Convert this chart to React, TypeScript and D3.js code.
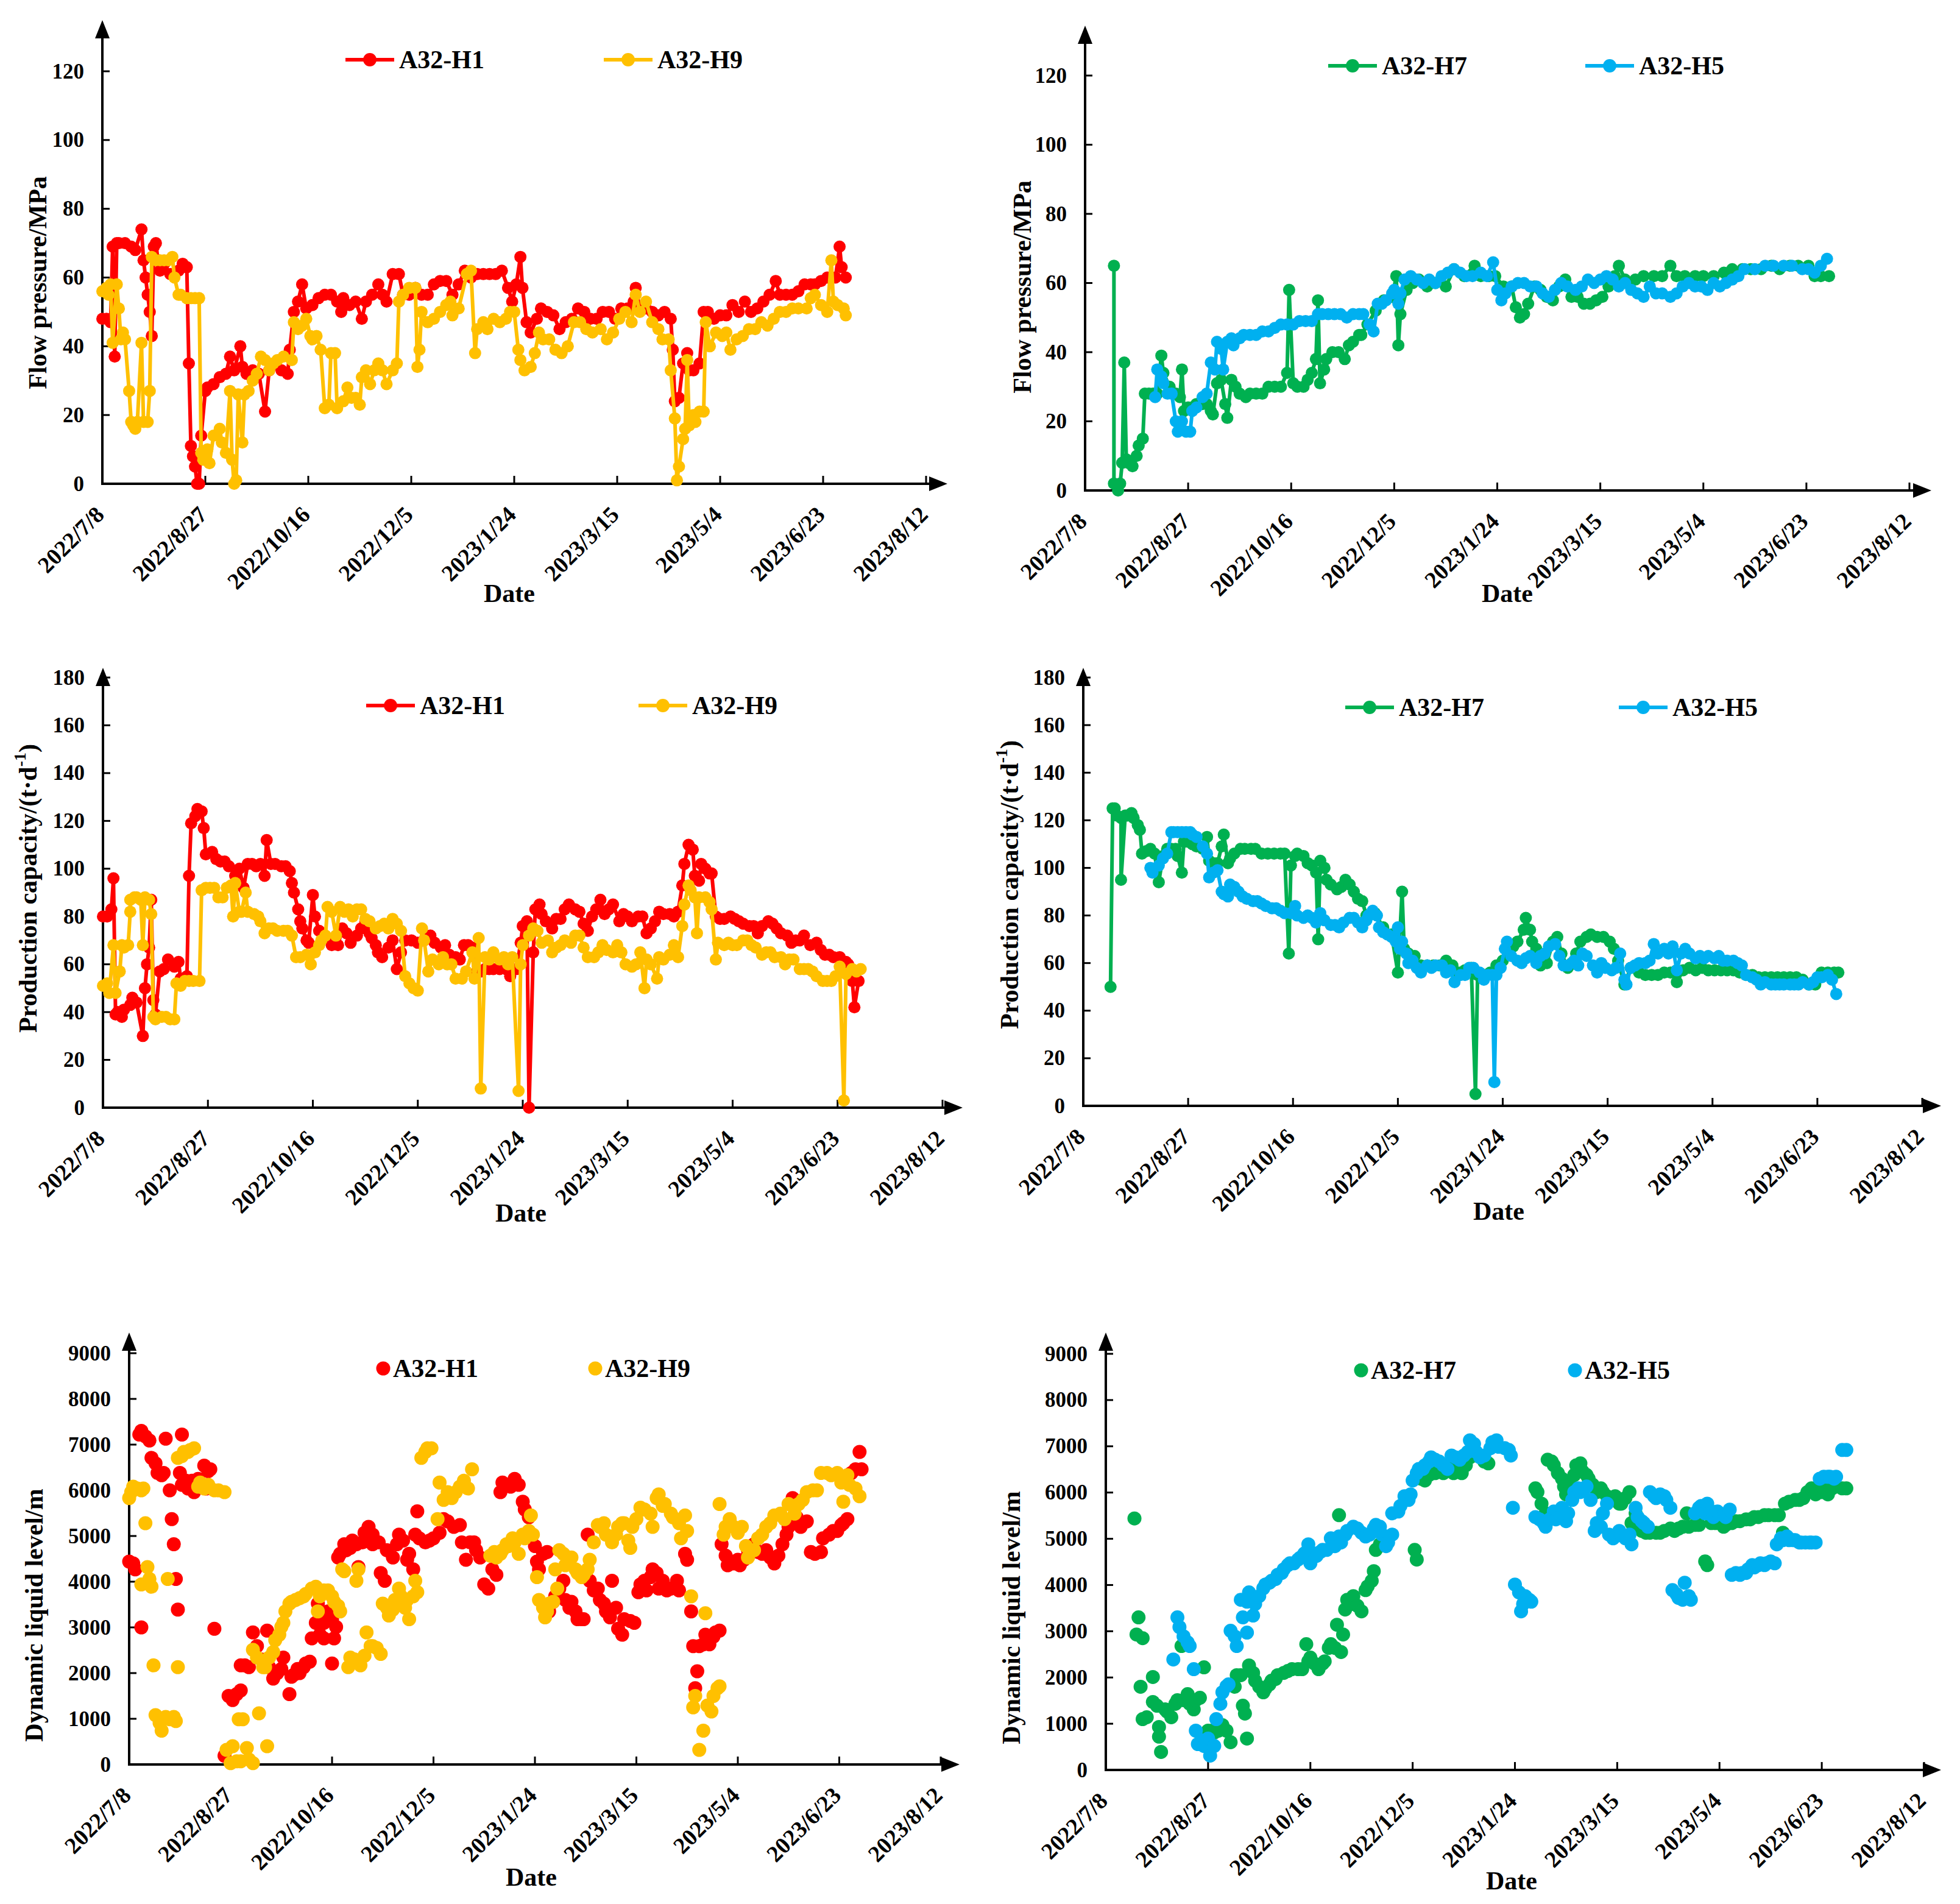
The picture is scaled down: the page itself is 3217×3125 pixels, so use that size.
import * as d3 from "d3"

type Pt = [number, number]

// day offsets from 2022/7/8, value
const START = new Date(2022, 6, 8)
const SPAN_DAYS = 400
const TICK_STEP_DAYS = 50

const pressureTicks = [0, 20, 40, 60, 80, 100, 120]
const capacityTicks = [0, 20, 40, 60, 80, 100, 120, 140, 160, 180]
const levelTicks = [0, 1000, 2000, 3000, 4000, 5000, 6000, 7000, 8000, 9000]

const pressureH1: Pt[] = [[0,48],[2,48],[4,47],[5,69],[6,37],[7,70],[8,70],[11,70],[14,69],[16,68],[19,74],[20,65],[21,60],[22,55],[23,50],[24,43],[25,69],[26,70],[27,65],[28,62],[30,64],[33,61],[35,61],[37,62],[39,64],[41,63],[42,35],[43,11],[44,8],[45,5],[46,0],[47,0],[48,14],[50,27],[51,28],[54,29],[57,31],[60,32],[62,37],[64,33],[67,40],[68,34],[70,32],[73,33],[76,32],[79,21],[81,33],[84,35],[87,33],[90,32],[91,39],[93,50],[95,53],[97,58],[99,51],[102,52],[105,54],[108,55],[111,55],[114,53],[116,50],[117,54],[120,52],[123,53],[126,48],[128,53],[131,55],[134,58],[136,55],[138,53],[141,61],[144,61],[146,55],[149,55],[152,57],[155,55],[158,55],[161,58],[164,59],[167,59],[170,55],[173,58],[176,62],[179,60],[182,61],[185,61],[188,61],[191,61],[194,62],[197,57],[199,53],[201,58],[203,66],[204,57],[206,47],[208,44],[211,48],[213,51],[216,50],[219,49],[222,45],[225,47],[228,48],[231,51],[234,50],[237,48],[240,48],[243,50],[246,50],[249,48],[252,51],[255,51],[258,53],[259,57],[261,51],[264,51],[267,50],[270,49],[273,50],[276,48],[277,39],[278,24],[280,25],[282,35],[284,38],[285,33],[287,33],[290,35],[292,50],[294,50],[297,48],[300,49],[303,49],[306,52],[309,50],[312,53],[315,50],[318,51],[321,53],[324,55],[327,59],[329,55],[332,55],[335,55],[338,56],[341,58],[344,58],[346,58],[349,59],[352,60],[356,60],[358,69],[359,63],[361,60]]

const pressureH9: Pt[] = [[0,56],[2,57],[3,55],[4,58],[5,41],[7,58],[8,51],[9,42],[10,44],[11,42],[13,27],[14,18],[15,17],[16,16],[17,18],[19,41],[20,18],[22,18],[23,27],[24,66],[26,65],[28,65],[30,65],[32,65],[34,66],[35,60],[37,55],[38,55],[41,54],[43,54],[45,54],[47,54],[48,9],[49,7],[51,10],[52,6],[54,14],[57,16],[58,12],[60,9],[62,27],[63,7],[64,0],[65,1],[66,26],[68,12],[69,26],[71,27],[73,30],[75,32],[77,37],[79,36],[81,33],[83,35],[85,36],[88,37],[92,36],[93,47],[95,45],[97,46],[99,48],[101,43],[102,42],[104,43],[106,39],[108,22],[110,23],[111,38],[113,38],[114,22],[117,24],[119,28],[121,25],[123,25],[125,23],[126,31],[128,33],[130,29],[132,33],[134,35],[136,33],[138,29],[141,33],[143,35],[144,53],[146,55],[149,57],[152,57],[153,34],[154,39],[155,50],[158,47],[161,48],[164,50],[167,52],[169,53],[170,49],[173,51],[177,61],[179,62],[181,38],[182,45],[185,47],[187,45],[190,48],[193,47],[196,48],[198,50],[200,50],[202,39],[203,36],[205,33],[208,34],[210,38],[212,44],[214,42],[217,42],[220,39],[223,38],[226,40],[229,47],[232,47],[235,45],[238,44],[242,45],[245,42],[248,44],[251,48],[254,50],[257,47],[259,55],[261,50],[264,53],[267,47],[270,45],[272,42],[275,42],[276,33],[278,19],[279,1],[280,5],[282,13],[283,16],[284,36],[285,17],[287,20],[288,18],[290,21],[292,21],[293,47],[295,40],[298,44],[301,43],[303,44],[305,39],[308,42],[311,43],[314,45],[317,45],[320,47],[323,46],[326,48],[329,50],[332,50],[335,51],[338,51],[342,51],[344,54],[346,55],[349,52],[352,50],[354,65],[355,53],[357,52],[360,51],[361,49]]

const pressureH7: Pt[] = [[14,65],[14,2],[16,0],[17,2],[18,8],[19,37],[20,9],[21,8],[23,7],[25,10],[26,13],[28,15],[29,28],[31,28],[33,28],[35,28],[37,39],[38,34],[41,30],[44,28],[46,27],[47,35],[48,23],[50,24],[52,24],[54,25],[57,25],[59,25],[61,23],[62,22],[64,31],[66,32],[68,25],[69,21],[71,32],[73,30],[75,28],[78,27],[80,28],[83,28],[86,28],[89,30],[92,30],[95,30],[98,34],[99,58],[101,31],[103,30],[106,30],[108,32],[110,34],[112,38],[113,55],[114,31],[116,35],[117,38],[120,40],[123,40],[126,38],[128,42],[130,43],[133,45],[134,45],[137,48],[141,52],[145,55],[149,56],[151,62],[152,42],[153,51],[156,58],[159,60],[162,61],[166,59],[170,60],[175,59],[179,64],[184,62],[189,65],[192,62],[196,62],[199,62],[203,59],[207,59],[209,53],[211,50],[213,51],[215,54],[218,59],[221,58],[224,56],[227,55],[230,59],[233,61],[236,56],[239,56],[242,54],[245,54],[248,55],[251,56],[254,59],[257,62],[259,65],[262,61],[267,61],[271,62],[276,62],[280,62],[284,65],[287,62],[291,62],[296,62],[300,62],[305,62],[310,63],[314,64],[319,64],[323,64],[328,64],[333,65],[337,64],[342,65],[346,65],[351,65],[354,62],[357,62],[361,62]]

const pressureH5: Pt[] = [[34,27],[35,35],[37,33],[38,31],[40,28],[42,28],[44,20],[45,17],[47,20],[49,17],[51,17],[52,23],[54,24],[57,27],[59,28],[61,37],[63,35],[64,43],[66,41],[67,35],[69,43],[71,44],[72,42],[75,44],[77,45],[80,45],[83,45],[86,46],[89,46],[92,47],[95,48],[98,48],[101,48],[104,49],[107,49],[110,49],[113,51],[115,51],[118,51],[121,51],[124,51],[127,50],[130,51],[133,51],[135,51],[138,48],[140,46],[142,54],[144,54],[146,55],[149,57],[150,58],[152,54],[153,57],[155,61],[158,62],[161,61],[164,60],[167,61],[170,60],[173,62],[176,63],[179,64],[182,63],[185,62],[188,62],[192,63],[195,62],[198,66],[200,58],[202,55],[204,57],[207,59],[210,60],[213,60],[216,59],[219,59],[222,57],[225,56],[228,58],[231,60],[234,59],[238,58],[241,59],[244,61],[247,60],[250,61],[253,62],[256,61],[259,59],[262,60],[265,58],[268,57],[271,56],[274,59],[277,57],[280,57],[284,56],[287,57],[290,59],[293,60],[296,59],[299,59],[302,58],[305,60],[308,59],[311,60],[314,61],[317,62],[320,64],[325,64],[330,65],[334,65],[339,65],[343,65],[348,64],[351,64],[354,63],[357,65],[360,67]]

const capacityH1: Pt[] = [[0,80],[2,80],[4,83],[5,96],[6,39],[7,40],[9,38],[10,41],[13,43],[14,46],[16,44],[19,30],[20,50],[21,60],[22,67],[23,87],[24,45],[25,39],[27,57],[29,58],[31,62],[34,59],[36,61],[37,54],[40,55],[41,97],[42,119],[44,122],[45,125],[47,124],[48,117],[49,106],[52,107],[54,104],[56,103],[58,103],[60,101],[63,97],[65,100],[67,92],[69,102],[71,102],[73,101],[75,102],[77,97],[78,112],[80,102],[82,102],[85,101],[87,101],[89,99],[90,94],[91,90],[93,83],[94,78],[95,75],[97,70],[98,69],[100,89],[101,80],[103,74],[105,72],[107,71],[109,68],[112,68],[114,75],[116,73],[118,69],[121,72],[123,75],[125,78],[127,73],[128,71],[130,68],[131,65],[133,63],[136,67],[138,70],[140,58],[142,65],[144,70],[147,70],[150,69],[153,70],[156,72],[158,69],[161,67],[163,68],[165,64],[168,63],[170,62],[172,68],[174,68],[176,67],[177,56],[180,57],[182,58],[184,58],[186,58],[189,58],[192,58],[194,55],[197,58],[199,69],[200,76],[202,78],[203,0],[205,65],[206,83],[208,85],[209,81],[211,78],[214,75],[216,79],[218,79],[220,83],[222,85],[225,83],[227,82],[229,77],[231,74],[233,80],[235,83],[237,87],[239,81],[241,83],[243,85],[246,78],[248,81],[250,80],[252,78],[255,80],[257,80],[259,73],[261,75],[263,78],[265,82],[267,81],[270,81],[272,80],[274,82],[276,93],[277,102],[279,110],[281,108],[282,97],[284,95],[285,102],[287,100],[289,98],[290,98],[292,80],[294,79],[296,79],[299,80],[301,79],[303,78],[305,77],[308,76],[310,76],[312,73],[314,76],[317,78],[319,77],[321,75],[323,73],[326,72],[328,69],[330,70],[332,70],[334,72],[337,68],[340,69],[342,66],[344,64],[346,64],[348,63],[351,63],[354,61],[355,60],[357,53],[358,42],[360,53]]

const capacityH9: Pt[] = [[0,51],[2,52],[3,48],[5,68],[6,48],[8,57],[9,68],[10,67],[12,68],[13,82],[13,87],[15,88],[16,88],[18,87],[19,68],[20,88],[22,87],[23,81],[24,38],[25,37],[28,38],[30,38],[32,37],[34,37],[35,52],[37,51],[39,53],[41,53],[43,53],[46,53],[47,91],[49,92],[51,92],[53,92],[55,88],[57,88],[59,92],[61,93],[62,80],[63,94],[65,82],[66,82],[68,90],[69,82],[72,81],[74,80],[75,78],[77,73],[79,75],[81,75],[83,74],[86,74],[88,74],[90,72],[92,63],[94,63],[97,64],[99,60],[101,65],[103,68],[104,70],[106,72],[107,84],[109,82],[111,72],[113,84],[115,82],[117,83],[119,80],[121,83],[123,83],[125,79],[127,78],[130,75],[132,76],[134,77],[136,75],[138,79],[140,77],[142,74],[144,55],[146,52],[148,50],[150,49],[152,75],[153,70],[155,57],[157,62],[160,60],[162,63],[164,60],[166,60],[168,54],[171,54],[173,57],[176,65],[177,54],[179,71],[180,8],[182,63],[184,62],[186,65],[189,62],[191,63],[193,60],[195,63],[198,7],[199,60],[200,68],[203,72],[205,75],[207,74],[209,69],[212,70],[214,65],[216,67],[218,68],[220,70],[223,69],[225,72],[227,72],[229,67],[231,63],[234,63],[236,65],[238,68],[240,66],[243,65],[245,68],[247,65],[249,60],[252,59],[254,60],[256,65],[258,50],[259,62],[261,60],[264,54],[265,63],[267,62],[270,64],[272,68],[274,63],[276,76],[277,85],[279,93],[280,91],[282,88],[283,73],[284,88],[287,88],[289,86],[290,83],[292,62],[293,69],[296,68],[298,69],[300,68],[302,68],[305,70],[307,70],[309,68],[311,67],[314,64],[316,65],[318,65],[320,63],[323,63],[325,60],[327,62],[329,62],[332,58],[334,58],[336,58],[338,57],[340,55],[343,53],[345,53],[347,53],[349,55],[351,59],[353,3],[354,56],[357,58],[359,57],[361,58]]

const capacityH7: Pt[] = [[13,50],[14,125],[15,125],[16,122],[18,121],[18,95],[20,122],[21,122],[23,123],[24,121],[26,118],[27,116],[28,106],[30,107],[32,108],[34,106],[36,94],[38,105],[40,108],[42,108],[44,108],[45,105],[47,98],[48,111],[50,111],[52,110],[54,109],[57,108],[59,113],[60,103],[62,102],[64,102],[66,109],[67,114],[69,102],[70,104],[72,106],[75,108],[77,108],[80,108],[82,108],[85,106],[88,106],[91,106],[94,106],[96,106],[98,64],[99,101],[101,105],[102,106],[105,105],[107,102],[109,101],[111,98],[112,70],[113,103],[115,100],[116,95],[118,93],[121,91],[123,92],[125,95],[127,93],[129,90],[131,87],[133,86],[135,80],[139,81],[143,75],[147,72],[150,56],[152,90],[153,66],[155,64],[158,63],[161,59],[164,59],[167,59],[170,59],[173,61],[176,59],[179,56],[182,57],[185,58],[187,5],[188,55],[191,55],[194,56],[197,59],[200,61],[203,64],[205,67],[207,69],[210,74],[211,79],[213,74],[214,69],[216,66],[218,59],[221,60],[224,69],[226,71],[228,64],[231,58],[233,60],[235,64],[237,69],[240,71],[242,72],[245,71],[248,71],[251,69],[253,66],[255,61],[258,51],[261,58],[265,56],[268,55],[271,55],[274,55],[277,56],[280,56],[283,57],[283,52],[286,57],[289,58],[292,57],[295,58],[298,57],[301,57],[304,57],[307,57],[310,57],[313,56],[316,55],[319,55],[322,54],[325,54],[328,54],[331,54],[334,54],[337,54],[340,54],[343,53],[346,51],[349,51],[352,56],[355,56],[358,56],[360,56]]

const capacityH5: Pt[] = [[32,100],[33,98],[36,101],[38,104],[40,106],[42,115],[43,115],[45,115],[47,115],[49,115],[51,115],[52,114],[54,113],[57,109],[59,106],[60,96],[62,98],[64,99],[66,90],[67,89],[69,88],[70,93],[72,92],[74,90],[76,88],[78,87],[81,86],[83,86],[85,85],[87,84],[90,83],[92,83],[94,82],[96,81],[99,81],[101,84],[102,80],[105,79],[107,80],[109,79],[111,77],[113,81],[115,78],[118,76],[120,76],[122,75],[124,77],[127,79],[129,79],[131,77],[133,75],[135,78],[136,80],[138,82],[140,80],[141,75],[143,73],[145,72],[147,71],[149,69],[150,75],[151,66],[152,69],[154,64],[155,60],[157,61],[159,58],[161,56],[164,59],[166,58],[168,59],[171,59],[173,56],[175,57],[177,52],[180,55],[182,55],[184,58],[186,58],[189,56],[191,53],[193,55],[195,55],[196,10],[197,55],[199,58],[201,66],[202,69],[204,63],[207,61],[209,60],[211,62],[213,63],[216,60],[218,63],[220,64],[222,67],[225,68],[227,63],[229,59],[231,59],[234,61],[236,59],[238,64],[240,63],[243,59],[245,56],[247,60],[249,58],[252,57],[254,58],[256,64],[258,53],[259,51],[261,58],[263,59],[265,60],[268,60],[270,61],[272,68],[274,64],[277,66],[279,64],[281,67],[283,57],[285,64],[287,66],[289,64],[292,62],[294,63],[296,62],[298,63],[301,62],[303,63],[305,61],[307,61],[310,61],[312,60],[314,59],[316,55],[319,54],[321,53],[323,51],[325,52],[328,51],[330,51],[332,51],[334,51],[337,51],[339,51],[341,51],[343,52],[346,51],[348,52],[350,54],[352,54],[355,55],[357,53],[359,47]]

const levelH1: Pt[] = [[0,4440],[2,4400],[3,4270],[5,7220],[6,7300],[6,3000],[8,7180],[10,7090],[11,6710],[13,6590],[14,6380],[16,6330],[17,6380],[18,7130],[20,6000],[21,5370],[22,4820],[23,4060],[24,3390],[25,6380],[26,7220],[26,6120],[28,6210],[29,6040],[31,6210],[32,5960],[34,6250],[35,6120],[37,6540],[38,6040],[39,6420],[40,6460],[42,2970],[47,190],[49,1500],[51,1410],[53,1540],[55,1620],[55,2170],[57,2170],[59,2130],[61,2890],[63,2590],[65,2300],[68,2930],[69,2130],[71,1880],[73,2000],[75,2090],[76,2340],[79,1540],[80,1920],[81,1960],[83,2090],[84,2000],[86,2130],[87,2210],[89,2250],[90,2760],[92,3100],[93,3520],[94,2840],[96,3100],[96,2760],[98,3350],[100,3180],[100,2210],[101,2760],[102,3010],[103,4530],[104,4610],[106,4820],[107,4690],[109,4740],[110,4900],[112,4820],[113,4320],[115,4860],[116,5070],[118,5200],[120,5030],[120,4820],[123,4860],[124,4190],[126,4020],[127,4690],[130,4530],[132,4820],[133,5030],[135,4900],[137,4480],[138,4610],[140,4270],[141,5030],[142,5540],[143,4950],[146,4860],[148,4900],[150,4950],[153,5070],[155,5370],[157,5320],[160,5200],[163,5240],[164,4860],[166,4480],[168,4860],[170,4860],[171,4690],[173,4530],[175,3940],[177,3850],[179,4270],[181,4150],[183,5960],[184,6170],[186,6120],[188,6080],[190,6250],[192,6120],[194,5750],[195,5580],[197,5410],[198,5030],[200,4780],[201,4440],[202,4270],[204,4610],[206,4650],[207,3350],[209,3560],[210,3680],[212,3850],[214,4020],[215,3600],[217,3430],[218,3560],[220,3350],[221,3180],[223,3180],[224,3180],[226,5030],[227,4020],[229,3810],[231,3850],[232,3600],[234,3520],[235,3350],[237,3220],[238,4020],[240,3430],[241,2970],[243,2840],[244,3180],[247,3140],[249,3100],[251,3770],[252,3940],[254,4020],[255,3810],[257,4100],[258,4270],[260,4190],[261,3850],[263,4020],[265,3810],[267,3850],[270,4020],[271,3810],[274,4610],[275,4480],[277,3350],[278,2590],[279,1670],[280,2040],[281,2590],[283,2630],[284,2840],[286,2630],[288,2800],[289,2890],[291,2930],[292,4820],[294,4570],[295,4360],[297,4440],[298,4400],[300,4480],[301,4360],[303,4480],[305,4690],[308,4820],[310,4650],[312,4610],[314,4690],[316,4530],[318,4400],[320,4570],[322,4820],[324,5030],[325,5200],[327,5830],[329,5410],[331,5200],[334,5320],[336,4650],[338,4610],[341,4650],[342,4950],[345,5030],[347,5110],[349,5110],[351,5240],[352,5280],[354,5370],[356,6380],[358,6460],[360,6840],[361,6460]]

const levelH9: Pt[] = [[0,5830],[1,5960],[2,6080],[4,6040],[6,6000],[6,3940],[7,6040],[8,5280],[9,4320],[10,4060],[11,3890],[12,2170],[13,1080],[15,910],[16,740],[18,1040],[19,4060],[20,990],[22,1040],[23,950],[24,2130],[24,6710],[26,6750],[27,6840],[29,6840],[30,6880],[32,6920],[34,6080],[35,6170],[37,6040],[39,6120],[42,6000],[44,6000],[47,5960],[48,320],[50,30],[51,400],[53,70],[54,990],[55,70],[56,990],[58,360],[59,110],[61,30],[61,2510],[63,2340],[64,1120],[66,2130],[67,2130],[68,400],[69,2340],[71,2460],[72,2720],[74,2840],[75,3010],[76,3100],[77,3350],[79,3520],[80,3560],[82,3600],[84,3640],[86,3680],[87,3730],[90,3850],[92,3890],[93,3350],[94,3680],[96,3810],[98,3810],[100,3680],[101,3560],[103,3470],[104,3350],[105,4270],[106,4230],[108,2130],[109,2340],[111,2300],[112,4020],[113,4270],[114,2170],[116,2380],[117,2890],[119,2590],[120,2590],[122,2550],[124,2420],[125,3520],[127,3430],[128,3260],[130,3390],[131,3600],[133,3850],[134,3680],[136,3430],[137,3600],[138,3180],[140,3680],[141,4020],[142,3770],[144,6710],[146,6840],[147,6920],[149,6920],[152,5370],[153,6170],[155,5790],[157,5960],[159,5830],[161,5960],[163,6080],[165,6210],[167,6040],[169,6460],[178,4570],[180,4650],[181,4530],[183,4610],[184,4690],[186,4820],[187,4780],[189,4950],[190,4860],[192,4610],[194,5030],[195,4950],[197,5110],[198,5450],[199,5030],[201,4100],[202,3600],[204,3430],[205,3220],[206,3350],[207,3520],[209,3560],[210,4270],[211,3850],[212,4690],[214,4610],[215,4360],[217,4530],[218,4530],[220,4270],[221,4190],[223,4100],[224,4150],[226,4270],[227,4480],[229,4860],[231,5240],[232,5200],[234,5280],[235,5030],[238,4860],[240,5030],[241,5200],[243,5280],[244,5280],[246,4900],[247,4740],[248,5200],[250,5370],[252,5620],[254,5580],[257,5490],[258,5200],[260,5830],[261,5910],[263,5660],[264,5700],[267,5490],[268,5410],[271,5280],[272,4950],[274,5450],[275,5110],[277,3680],[278,1250],[279,1500],[281,320],[283,740],[284,3310],[285,1290],[287,1160],[288,1500],[290,1670],[291,1710],[291,5700],[293,5030],[294,5200],[296,5370],[298,5200],[300,5070],[302,5200],[304,4780],[305,4530],[308,4690],[310,4950],[312,5030],[314,5200],[316,5280],[318,5450],[321,5490],[323,5370],[325,5700],[328,5490],[330,5700],[332,5790],[334,5960],[337,6000],[339,6000],[341,6380],[344,6380],[346,6330],[349,6380],[351,6170],[352,5750],[354,6330],[355,6120],[358,6040],[360,5870]]

const levelH7: Pt[] = [[14,5440],[15,2930],[16,3300],[17,1800],[18,2850],[18,1100],[20,1140],[23,2010],[23,1470],[25,1390],[26,930],[26,720],[27,390],[29,1310],[30,1260],[32,1140],[34,1430],[35,1510],[37,2680],[38,1510],[40,1640],[41,1430],[43,1310],[44,1510],[46,1560],[48,2220],[50,850],[52,850],[53,810],[55,850],[57,970],[59,850],[61,600],[63,1800],[64,2050],[66,2050],[67,1390],[68,1220],[69,680],[70,2260],[72,2100],[73,1930],[75,1800],[77,1680],[78,1760],[80,1850],[81,1930],[83,1970],[84,2050],[87,2100],[89,2140],[91,2180],[94,2180],[96,2180],[98,2720],[99,2350],[100,2430],[102,2300],[104,2180],[106,2300],[107,2350],[109,2640],[110,2720],[112,2640],[113,3140],[114,5510],[115,2550],[116,2930],[117,3470],[118,3680],[120,3590],[121,3760],[123,3550],[125,3430],[127,3890],[128,3970],[130,4090],[131,4300],[132,4760],[134,4880],[151,4760],[152,4550],[154,6300],[156,6260],[158,6380],[161,6420],[163,6510],[165,6420],[168,6590],[170,6420],[172,6460],[174,6420],[176,6590],[178,6760],[181,6800],[183,6800],[185,6670],[187,6630],[210,6090],[211,6010],[213,5760],[215,5550],[216,6710],[218,6670],[219,6590],[221,6420],[223,6300],[224,6130],[225,5960],[227,6170],[229,6380],[230,6590],[232,6630],[233,6460],[235,6380],[236,6300],[238,6170],[240,6010],[242,6090],[243,6010],[245,5920],[246,5840],[248,5880],[249,5920],[251,5760],[252,5760],[254,5880],[256,6010],[257,5340],[259,5550],[260,5260],[262,5170],[264,5130],[266,5130],[269,5130],[271,5130],[273,5170],[276,5220],[278,5170],[280,5220],[282,5260],[284,5550],[285,5260],[288,5300],[290,5300],[293,4510],[294,4430],[296,5340],[298,5340],[300,5340],[302,5260],[303,5300],[306,5340],[308,5380],[310,5380],[313,5420],[315,5420],[317,5470],[319,5470],[322,5510],[324,5510],[327,5510],[329,5510],[331,5130],[332,5760],[334,5800],[337,5840],[339,5840],[341,5880],[343,6010],[345,6090],[347,5960],[350,6010],[351,6090],[353,5960],[355,6090],[357,6130],[360,6090],[362,6090]]

const levelH5: Pt[] = [[33,2390],[35,3300],[36,3090],[38,2890],[40,2760],[41,2680],[43,2180],[44,850],[45,560],[47,640],[48,520],[50,680],[51,310],[53,520],[54,1100],[56,1430],[57,1680],[59,1810],[60,1850],[61,3010],[63,2890],[64,2680],[66,3680],[67,3300],[69,3640],[69,2970],[70,3840],[72,3340],[73,3590],[75,3760],[77,3930],[78,4010],[80,4050],[81,4090],[83,4130],[84,4220],[86,4260],[87,4340],[89,4430],[90,4470],[92,4470],[94,4550],[95,4590],[97,4680],[99,4880],[100,4470],[102,4680],[103,4630],[105,4720],[106,4760],[108,4760],[110,5010],[112,4840],[114,5050],[115,4920],[117,5090],[118,5170],[121,5260],[123,5220],[125,5130],[127,5050],[129,5090],[131,5220],[132,5300],[134,5260],[135,5090],[137,4840],[138,4920],[140,5090],[140,5550],[143,5590],[144,5710],[146,5920],[148,5840],[149,5960],[150,6260],[152,6420],[153,6510],[155,6510],[156,6590],[158,6670],[159,6760],[161,6710],[163,6670],[165,6590],[167,6510],[169,6800],[171,6760],[173,6710],[175,6800],[177,6880],[178,7130],[180,7050],[181,6880],[183,6760],[185,6800],[188,6960],[189,7090],[191,7130],[192,6990],[195,6960],[197,6920],[198,6800],[199,5670],[200,4010],[202,3840],[203,3430],[204,3590],[205,3760],[207,3680],[208,3640],[210,5470],[212,5420],[214,5340],[215,5260],[217,5420],[219,5590],[220,5420],[222,5470],[223,5670],[225,5380],[226,5550],[228,5840],[229,6010],[231,6090],[232,6010],[234,6090],[235,6130],[237,5840],[239,5170],[240,5340],[242,5260],[243,5550],[245,5760],[246,5090],[248,5010],[249,5050],[251,5170],[252,5090],[254,5010],[256,5090],[257,4880],[259,5670],[260,5470],[262,5380],[263,5340],[265,5260],[266,6010],[268,5920],[269,5880],[271,5960],[273,5920],[274,5840],[276,5670],[277,3890],[279,3800],[280,3720],[282,3680],[283,4050],[285,3760],[286,3680],[288,5550],[290,5670],[291,5710],[293,5550],[294,5760],[296,5590],[297,5470],[299,5590],[300,5550],[302,5510],[303,5470],[305,5630],[306,4220],[308,4260],[310,4220],[311,4260],[313,4260],[314,4340],[316,4430],[317,4380],[319,4430],[320,4470],[322,4430],[323,4470],[325,4510],[327,4470],[328,4880],[330,5010],[331,4970],[333,5050],[334,4970],[336,4970],[337,4970],[339,4920],[340,4920],[342,4920],[344,4920],[345,4920],[347,4920],[349,6300],[351,6340],[353,6340],[354,6340],[356,6300],[357,6340],[360,6920],[362,6920]]

const RED = "#FF0000"
const GOLD = "#FFC000"
const GREEN = "#00B050"
const BLUE = "#00B0F0"
const FONT = "'Liberation Serif', 'Times New Roman', serif"

interface Series {
  name: string
  data: Pt[]
  color: string
  legendX: number
}

interface PanelCfg {
  left: number
  right: number
  top: number
  bottom: number
  yMax: number
  yTicks: number[]
  arrowX: number
  arrowY: number
  scatter: boolean
  series: Series[]
  legendY: number
  yTitle: string
  yTitleX: number
  yTitleY: number
  dateX: number
  dateY: number
  superscript?: boolean
}

const fmtDate = d3.timeFormat("%Y/%-m/%-d")
const toDate = (d: number) => d3.timeDay.offset(START, d)

function Panel({ cfg }: { cfg: PanelCfg }) {
  const x = d3
    .scaleTime()
    .domain([START, toDate(SPAN_DAYS)])
    .range([cfg.left, cfg.right])
  const y = d3.scaleLinear().domain([0, cfg.yMax]).range([cfg.bottom, cfg.top])
  const xTicks = d3.range(0, SPAN_DAYS + 1, TICK_STEP_DAYS).map(toDate)
  const line = d3
    .line<Pt>()
    .x(p => x(toDate(p[0])))
    .y(p => y(p[1]))

  const r = cfg.scatter ? 11.5 : 10
  const arrow = 30

  return (
    <g fontFamily={FONT} fontWeight="bold" fill="#000">
      {/* axes */}
      <line x1={cfg.left} y1={cfg.bottom} x2={cfg.arrowX - arrow + 2} y2={cfg.bottom} stroke="#000" strokeWidth={4} />
      <line x1={cfg.left} y1={cfg.bottom + 2} x2={cfg.left} y2={cfg.arrowY + arrow - 2} stroke="#000" strokeWidth={4} />
      <path d={`M${cfg.arrowX},${cfg.bottom} L${cfg.arrowX - arrow},${cfg.bottom - 12} L${cfg.arrowX - arrow},${cfg.bottom + 12} Z`} fill="#000" />
      <path d={`M${cfg.left},${cfg.arrowY} L${cfg.left - 12},${cfg.arrowY + arrow} L${cfg.left + 12},${cfg.arrowY + arrow} Z`} fill="#000" />

      {cfg.yTicks.map(t => (
        <g key={`y${t}`}>
          <line x1={cfg.left} x2={cfg.left + 12} y1={y(t)} y2={y(t)} stroke="#000" strokeWidth={3} />
          <text x={cfg.left - 30} y={y(t)} textAnchor="end" dominantBaseline="central" fontSize={35}>
            {t}
          </text>
        </g>
      ))}

      {xTicks.map((t, i) => (
        <g key={`x${i}`}>
          {i > 0 && <line x1={x(t)} x2={x(t)} y1={cfg.bottom} y2={cfg.bottom - 13} stroke="#000" strokeWidth={3} />}
          <text
            transform={`translate(${x(t) - 15},${cfg.bottom + 33}) rotate(-45)`}
            textAnchor="end"
            dy="0.75em"
            fontSize={38}
          >
            {fmtDate(t)}
          </text>
        </g>
      ))}

      {/* series */}
      {cfg.series.map(s => (
        <g key={s.name}>
          {!cfg.scatter && (
            <path d={line(s.data) || ""} fill="none" stroke={s.color} strokeWidth={6} strokeLinejoin="round" />
          )}
          {s.data.map((p, i) => (
            <circle key={i} cx={x(toDate(p[0]))} cy={y(p[1])} r={r} fill={s.color} />
          ))}
        </g>
      ))}

      {/* legend */}
      {cfg.series.map(s => (
        <g key={`lg${s.name}`}>
          {!cfg.scatter && (
            <line x1={s.legendX - 40} x2={s.legendX + 40} y1={cfg.legendY} y2={cfg.legendY} stroke={s.color} strokeWidth={6} />
          )}
          <circle cx={s.legendX} cy={cfg.legendY} r={cfg.scatter ? 11.5 : 11} fill={s.color} />
          <text
            x={s.legendX + (cfg.scatter ? 16 : 48)}
            y={cfg.legendY}
            dominantBaseline="central"
            fontSize={42}
          >
            {s.name}
          </text>
        </g>
      ))}

      {/* titles */}
      <text
        transform={`translate(${cfg.yTitleX},${cfg.yTitleY}) rotate(-90)`}
        textAnchor="middle"
        dominantBaseline="central"
        fontSize={42}
      >
        {cfg.superscript ? (
          <>
            {cfg.yTitle}
            <tspan dy={-14} fontSize={28}>-1</tspan>
            <tspan dy={14}>)</tspan>
          </>
        ) : (
          cfg.yTitle
        )}
      </text>
      <text x={cfg.dateX} y={cfg.dateY} textAnchor="middle" dominantBaseline="central" fontSize={42}>
        Date
      </text>
    </g>
  )
}

const panels: PanelCfg[] = [
  {
    left: 168, right: 1520, top: 117, bottom: 794, yMax: 120, yTicks: pressureTicks,
    arrowX: 1555, arrowY: 33, scatter: false, legendY: 98,
    series: [
      { name: "A32-H1", data: pressureH1, color: RED, legendX: 607 },
      { name: "A32-H9", data: pressureH9, color: GOLD, legendX: 1031 },
    ],
    yTitle: "Flow pressure/MPa", yTitleX: 62, yTitleY: 464, dateX: 836, dateY: 974,
  },
  {
    left: 1781, right: 3134, top: 124, bottom: 805, yMax: 120, yTicks: pressureTicks,
    arrowX: 3170, arrowY: 42, scatter: false, legendY: 108,
    series: [
      { name: "A32-H7", data: pressureH7, color: GREEN, legendX: 2220 },
      { name: "A32-H5", data: pressureH5, color: BLUE, legendX: 2642 },
    ],
    yTitle: "Flow pressure/MPa", yTitleX: 1678, yTitleY: 471, dateX: 2474, dateY: 974,
  },
  {
    left: 169, right: 1547, top: 1112, bottom: 1818, yMax: 180, yTicks: capacityTicks,
    arrowX: 1580, arrowY: 1096, scatter: false, legendY: 1158,
    series: [
      { name: "A32-H1", data: capacityH1, color: RED, legendX: 641 },
      { name: "A32-H9", data: capacityH9, color: GOLD, legendX: 1088 },
    ],
    yTitle: "Production capacity/(t·d", superscript: true,
    yTitleX: 46, yTitleY: 1458, dateX: 855, dateY: 1991,
  },
  {
    left: 1778, right: 3155, top: 1112, bottom: 1815, yMax: 180, yTicks: capacityTicks,
    arrowX: 3186, arrowY: 1096, scatter: false, legendY: 1161,
    series: [
      { name: "A32-H7", data: capacityH7, color: GREEN, legendX: 2248 },
      { name: "A32-H5", data: capacityH5, color: BLUE, legendX: 2697 },
    ],
    yTitle: "Production capacity/(t·d", superscript: true,
    yTitleX: 1657, yTitleY: 1452, dateX: 2460, dateY: 1988,
  },
  {
    left: 212, right: 1544, top: 2221, bottom: 2896, yMax: 9000, yTicks: levelTicks,
    arrowX: 1575, arrowY: 2187, scatter: true, legendY: 2246,
    series: [
      { name: "A32-H1", data: levelH1, color: RED, legendX: 629 },
      { name: "A32-H9", data: levelH9, color: GOLD, legendX: 977 },
    ],
    yTitle: "Dynamic liquid level/m", yTitleX: 56, yTitleY: 2651, dateX: 872, dateY: 3081,
  },
  {
    left: 1815, right: 3158, top: 2222, bottom: 2905, yMax: 9000, yTicks: levelTicks,
    arrowX: 3186, arrowY: 2187, scatter: true, legendY: 2249,
    series: [
      { name: "A32-H7", data: levelH7, color: GREEN, legendX: 2234 },
      { name: "A32-H5", data: levelH5, color: BLUE, legendX: 2585 },
    ],
    yTitle: "Dynamic liquid level/m", yTitleX: 1660, yTitleY: 2655, dateX: 2481, dateY: 3087,
  },
]

export default function App() {
  return (
    <div style={{ position: "absolute", left: 0, top: 0 }}>
      <svg width={3217} height={3125} viewBox="0 0 3217 3125" style={{ display: "block", background: "#fff" }}>
        {panels.map((p, i) => (
          <Panel key={i} cfg={p} />
        ))}
      </svg>
    </div>
  )
}
